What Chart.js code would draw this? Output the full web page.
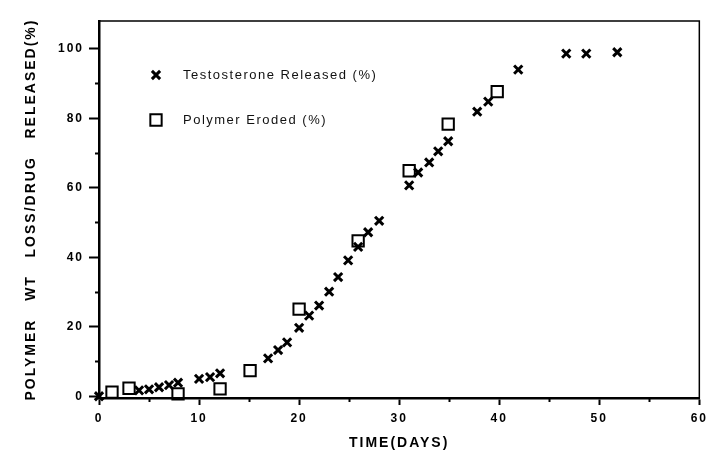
<!DOCTYPE html>
<html>
<head>
<meta charset="utf-8">
<title>Polymer wt loss / drug released</title>
<script src="https://cdn.jsdelivr.net/npm/chart.js@4.4.1/dist/chart.umd.min.js"></script>
<style>
  html, body { margin: 0; padding: 0; background: #fff; }
  #wrap { width: 712px; height: 457px; }
</style>
</head>
<body>
<div id="wrap"><canvas id="chart" width="712" height="457"></canvas></div>
<script>
// values
const releaseDays = [0, 4, 5, 6, 7, 7.9, 10, 11.1, 12.1, 16.9, 17.9, 18.8, 20, 21, 22, 23, 23.9, 24.9, 25.9, 26.9, 28, 31, 31.9, 33, 33.9, 34.9, 37.8, 38.9, 41.9, 46.7, 48.7, 51.8];
const releasePct  = [0, 1.7, 2.0, 2.6, 3.2, 3.9, 5.0, 5.5, 6.6, 10.9, 13.3, 15.5, 19.7, 23.2, 26.1, 30.1, 34.3, 39.1, 43.0, 47.2, 50.5, 60.7, 64.4, 67.3, 70.5, 73.4, 81.9, 84.8, 94.0, 98.6, 98.6, 99.0];
const erodedDays  = [1.3, 3.0, 7.9, 12.1, 15.1, 20.0, 25.9, 31.0, 34.9, 39.8];
const erodedPct   = [1.2, 2.3, 0.7, 2.1, 7.4, 25.1, 44.7, 64.9, 78.3, 87.7];

const xTicks = [0, 10, 20, 30, 40, 50, 60];
const xMinorTicks = [5, 15, 25, 35, 45, 55];
const yTicks = [0, 20, 40, 60, 80, 100];
const yMinorTicks = [10, 30, 50, 70, 90];

const FONT = "'Liberation Sans', Arial, Helvetica, sans-serif";
Chart.defaults.font.family = FONT;
Chart.defaults.color = '#000';

const pts = (xs, ys) => xs.map((x, i) => ({ x: x, y: ys[i] }));
const setTicks = list => scale => { scale.ticks = list.map(v => ({ value: v })); };

// the scan's lettering is spaced out a bit
const spacing = {
  id: 'spacing',
  beforeDraw(chart) { chart.ctx.letterSpacing = '2px'; }
};

// thin frame round the plot area
const frame = {
  id: 'frame',
  afterDatasetsDraw(chart) {
    const { ctx, chartArea: a } = chart;
    ctx.save();
    ctx.strokeStyle = '#000';
    ctx.lineWidth = 1.5;
    ctx.strokeRect(a.left, a.top, a.right - a.left, a.bottom - a.top);
    ctx.restore();
  }
};

// legend inside the plot, upper left
const innerLegend = {
  id: 'innerLegend',
  afterDraw(chart) {
    const { ctx, chartArea: a } = chart;
    ctx.save();
    ctx.letterSpacing = '1.5px';
    ctx.font = '13px ' + FONT;
    ctx.textBaseline = 'middle';
    ctx.textAlign = 'left';
    chart.data.datasets.forEach((ds, i) => {
      const y = a.top + 54 + i * 45;
      const x = a.left + 57;
      ctx.strokeStyle = '#000';
      ctx.fillStyle = 'rgba(0,0,0,0)';
      ctx.lineWidth = ds.pointBorderWidth;
      Chart.helpers.drawPoint(ctx, { pointStyle: ds.pointStyle, radius: ds.pointRadius, borderWidth: ds.pointBorderWidth, rotation: 0 }, x, y);
      ctx.fillStyle = '#111';
      ctx.fillText(ds.label, a.left + 84, y);
    });
    ctx.restore();
  }
};

new Chart(document.getElementById('chart'), {
  type: 'scatter',
  data: {
    datasets: [
      {
        label: 'Testosterone Released (%)',
        data: pts(releaseDays, releasePct),
        pointStyle: 'crossRot',
        pointRadius: 5.8,
        pointBorderWidth: 3,
        borderColor: '#000',
        backgroundColor: '#000',
        clip: false
      },
      {
        label: 'Polymer Eroded (%)',
        data: pts(erodedDays, erodedPct),
        pointStyle: 'rect',
        pointRadius: 8,
        pointBorderWidth: 2,
        borderColor: '#000',
        backgroundColor: 'rgba(0,0,0,0)',
        clip: false
      }
    ]
  },
  options: {
    responsive: false,
    animation: false,
    devicePixelRatio: 1,
    layout: { padding: { top: 21, right: 10, left: 0, bottom: 0 } },
    plugins: { legend: { display: false }, tooltip: { enabled: false } },
    scales: {
      x: {
        type: 'linear', position: 'bottom', weight: 1, min: 0, max: 60,
        afterBuildTicks: setTicks(xTicks),
        afterFit: s => { s.height = 59; },
        ticks: { font: { size: 12, weight: 'bold' }, padding: 6, color: '#000', autoSkip: false, maxRotation: 0 },
        grid: { drawOnChartArea: false, tickLength: 7, tickWidth: 2, tickColor: '#000' },
        border: { color: '#000', width: 2.5 },
        title: { display: true, text: 'TIME(DAYS)', color: '#000', font: { size: 14, weight: 'bold' }, padding: { top: 0, bottom: 5 } }
      },
      xMinor: {
        type: 'linear', position: 'bottom', weight: 0, min: 0, max: 60,
        afterBuildTicks: setTicks(xMinorTicks),
        afterFit: s => { s.height = 0; },
        ticks: { display: false },
        grid: { drawOnChartArea: false, tickLength: 4, tickWidth: 2, tickColor: '#000' },
        border: { display: false }
      },
      y: {
        type: 'linear', position: 'left', weight: 1, min: -0.5, max: 108,
        afterBuildTicks: setTicks(yTicks),
        afterFit: s => { s.width = 99; },
        ticks: { font: { size: 12, weight: 'bold' }, padding: 5, color: '#000' },
        grid: { drawOnChartArea: false, tickLength: 10, tickWidth: 2, tickColor: '#000' },
        border: { color: '#000', width: 2.5 },
        title: { display: true, text: 'POLYMER   WT   LOSS/DRUG   RELEASED(%)', color: '#000', font: { size: 14, weight: 'bold' }, padding: { top: 23, bottom: 0 } }
      },
      yMinor: {
        type: 'linear', position: 'left', weight: 0, min: -0.5, max: 108,
        afterBuildTicks: setTicks(yMinorTicks),
        afterFit: s => { s.width = 0; },
        ticks: { display: false },
        grid: { drawOnChartArea: false, tickLength: 4, tickWidth: 2, tickColor: '#000' },
        border: { display: false }
      }
    }
  },
  plugins: [spacing, frame, innerLegend]
});
</script>
</body>
</html>
